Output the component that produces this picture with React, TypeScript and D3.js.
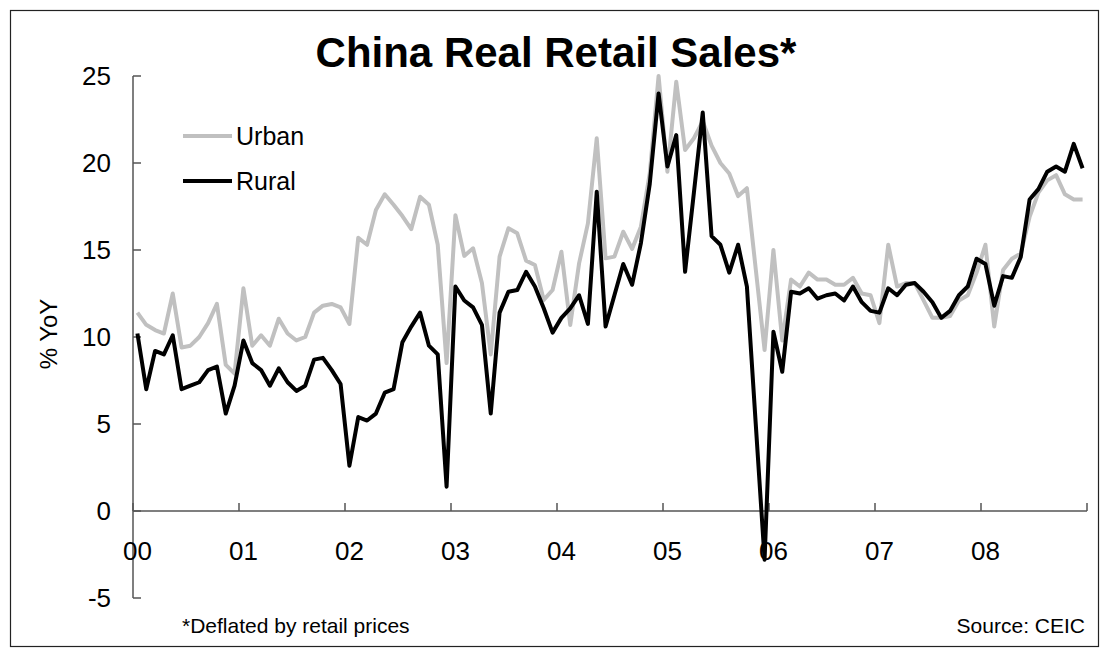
import React from "react";
import * as d3 from "d3";

const YEAR_LABELS = ["00", "01", "02", "03", "04", "05", "06", "07", "08"];
const MONTHS = ["01", "02", "03", "04", "05", "06", "07", "08", "09", "10", "11", "12"];
const Y_TICKS = [-5, 0, 5, 10, 15, 20, 25];

const URBAN = [
  11.4, 10.7, 10.4, 10.2, 12.5, 9.4, 9.5, 10.0, 10.8, 11.9, 8.4, 7.9,
  12.8, 9.5, 10.1, 9.5, 11.05, 10.2, 9.8, 10.0, 11.4, 11.8, 11.9, 11.7,
  10.75, 15.7, 15.3, 17.3, 18.2, 17.6, 16.95, 16.2, 18.06, 17.6, 15.3, 8.5,
  17.0, 14.66, 15.1, 13.1, 9.0, 14.62, 16.25, 15.96, 14.39, 14.14, 12.13, 12.7,
  14.9, 10.69, 14.23, 16.53, 21.42, 14.52, 14.62, 16.05, 15.06, 16.34, 19.4, 25.0,
  19.5, 24.67, 20.75, 21.42, 22.4, 21.0, 20.0, 19.4, 18.1, 18.55, 13.9, 9.25,
  15.0, 9.8, 13.3, 12.9, 13.7, 13.3, 13.3, 13.0, 13.0, 13.4, 12.5, 12.4,
  10.8, 15.3, 12.9, 13.1, 13.1, 12.1, 11.1, 11.1, 11.2, 12.1, 12.4, 13.7,
  15.3, 10.6, 13.85, 14.5, 14.8, 16.9, 18.3, 19.0, 19.3, 18.2, 17.9, 17.9,
];

const RURAL = [
  10.2, 7.0, 9.2, 9.0, 10.1, 7.0, 7.2, 7.4, 8.1, 8.3, 5.6, 7.2,
  9.8, 8.5, 8.1, 7.2, 8.2, 7.4, 6.9, 7.2, 8.7, 8.8, 8.1, 7.3,
  2.6, 5.4, 5.2, 5.6, 6.8, 7.0, 9.7, 10.6, 11.4, 9.5, 9.0, 1.4,
  12.9, 12.1, 11.7, 10.7, 5.6, 11.4, 12.6, 12.7, 13.75, 12.9, 11.65, 10.25,
  11.1, 11.65, 12.4, 10.75, 18.35, 10.6, 12.4, 14.2, 13.0, 15.4, 18.8, 24.0,
  19.8, 21.6, 13.75, 18.3, 22.9, 15.8, 15.3, 13.7, 15.3, 12.9, 5.0, -2.8,
  10.3, 8.0, 12.6, 12.5, 12.8, 12.2, 12.4, 12.5, 12.1, 12.9, 12.0, 11.5,
  11.4, 12.8, 12.4, 13.0, 13.1, 12.6, 12.0, 11.1, 11.5, 12.4, 12.9, 14.5,
  14.2, 11.8, 13.5, 13.4, 14.6, 17.9, 18.5, 19.5, 19.8, 19.5, 21.1, 19.7,
];

const CATEGORIES = YEAR_LABELS.flatMap((y) => MONTHS.map((m) => `${y}-${m}`));

const W = 1106;
const H = 654;
const FONT = "'Liberation Sans', Arial, sans-serif";

export default function App() {
  const x = d3.scaleBand<string>().domain(CATEGORIES).range([133, 1087]).padding(0);
  const y = d3.scaleLinear().domain([-5, 25]).range([598, 76]);
  const cx = (c: string) => (x(c) as number) + x.bandwidth() / 2;

  const line = d3
    .line<number>()
    .x((_, i) => cx(CATEGORIES[i]))
    .y((d) => y(d));

  const yearStarts = YEAR_LABELS.map((yl) => `${yl}-01`);
  const xTickPos = [...yearStarts.map((c) => x(c) as number), x.range()[1]];

  return (
    <svg
      width={W}
      height={H}
      style={{ position: "absolute", left: 0, top: 0, background: "#fff" }}
      fontFamily={FONT}
    >
      <rect x={0} y={0} width={W} height={H} fill="#fff" />
      <rect x={10.5} y={10.5} width={1088} height={636} fill="none" stroke="#222" strokeWidth={1.2} />

      <text x={556} y={67} textAnchor="middle" fontSize={42} fontWeight="bold" fill="#000">
        China Real Retail Sales*
      </text>

      {/* y axis */}
      <line x1={133} x2={133} y1={y(25)} y2={y(-5)} stroke="#555" strokeWidth={1.5} />
      {Y_TICKS.map((t) => (
        <g key={t}>
          <line x1={133} x2={141} y1={y(t)} y2={y(t)} stroke="#555" strokeWidth={1.5} />
          <text x={111} y={y(t)} dy="0.36em" textAnchor="end" fontSize={26} fill="#000">
            {t}
          </text>
        </g>
      ))}
      <text
        transform={`translate(48, 334) rotate(-90)`}
        textAnchor="middle"
        dy="0.36em"
        fontSize={24}
        fill="#000"
      >
        % YoY
      </text>

      {/* x axis at zero */}
      <line x1={133} x2={x.range()[1]} y1={y(0)} y2={y(0)} stroke="#555" strokeWidth={1.5} />
      {xTickPos.map((p, i) => (
        <line key={i} x1={p} x2={p} y1={y(0)} y2={y(0) - 8} stroke="#555" strokeWidth={1.5} />
      ))}
      {YEAR_LABELS.map((yl) => (
        <text key={yl} x={cx(`${yl}-01`)} y={560} textAnchor="middle" fontSize={26} fill="#000">
          {yl}
        </text>
      ))}

      {/* series */}
      <path d={line(URBAN) || ""} fill="none" stroke="#c0c0c0" strokeWidth={4} strokeLinejoin="round" />
      <path d={line(RURAL) || ""} fill="none" stroke="#000" strokeWidth={4} strokeLinejoin="round" />

      {/* legend */}
      <line x1={183} x2={232} y1={136} y2={136} stroke="#c0c0c0" strokeWidth={4} />
      <text x={236} y={136} dy="0.36em" fontSize={25} fill="#000">Urban</text>
      <line x1={183} x2={232} y1={181} y2={181} stroke="#000" strokeWidth={4} />
      <text x={236} y={181} dy="0.36em" fontSize={25} fill="#000">Rural</text>

      {/* notes */}
      <text x={182} y={633} fontSize={21} fill="#000">*Deflated by retail prices</text>
      <text x={1085} y={633} textAnchor="end" fontSize={21} fill="#000">Source: CEIC</text>
    </svg>
  );
}
